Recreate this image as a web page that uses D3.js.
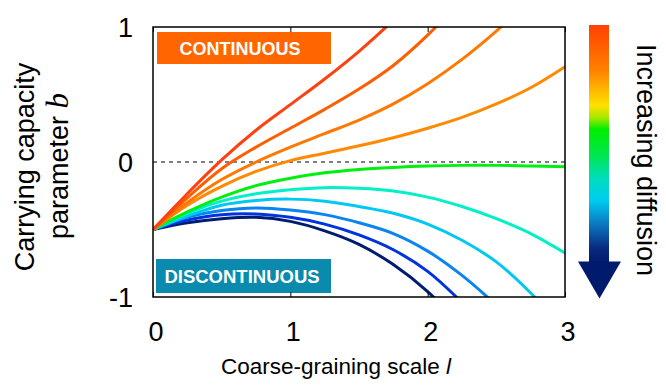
<!DOCTYPE html>
<html>
<head>
<meta charset="utf-8">
<script src="https://cdn.jsdelivr.net/npm/d3@7"></script>
<style>
  body { margin: 0; background: #fff; }
  svg { display: block; font-family: Helvetica, Arial, "Liberation Sans", sans-serif; }
</style>
</head>
<body>
<div id="chart"></div>
<script>
// coarse-graining scale grid (x values shared by every curve)
var lValues = [0, 0.25, 0.5, 0.75, 1, 1.25, 1.5, 1.75, 2, 2.25, 2.5, 2.75, 3];

// b(l) for each diffusion level, low diffusion first (values past the frame get clipped)
var bRed    = [-0.5, -0.235, 0.015, 0.235, 0.425, 0.615, 0.82, 1.05, 1.3, 1.57, 1.85, 2.15, 2.45];
var bOrange1 = [-0.5, -0.265, -0.05, 0.11, 0.25, 0.39, 0.54, 0.715, 0.94, 1.2, 1.45, 1.7, 1.95];
var bOrange2 = [-0.5, -0.30, -0.13, 0.0, 0.11, 0.21, 0.31, 0.43, 0.58, 0.76, 0.97, 1.2, 1.45];
var bOrange3 = [-0.5, -0.32, -0.18, -0.07, 0.01, 0.065, 0.12, 0.18, 0.25, 0.33, 0.43, 0.55, 0.706];
var bGreen  = [-0.5, -0.37, -0.26, -0.175, -0.12, -0.08, -0.055, -0.04, -0.03, -0.025, -0.025, -0.03, -0.035];
var bAqua   = [-0.5, -0.38, -0.29, -0.235, -0.205, -0.19, -0.195, -0.215, -0.26, -0.33, -0.42, -0.53, -0.674];
var bCyan   = [-0.5, -0.40, -0.32, -0.285, -0.275, -0.29, -0.33, -0.38, -0.46, -0.58, -0.74, -0.97, -1.25];
var bAzure  = [-0.5, -0.41, -0.36, -0.34, -0.355, -0.39, -0.45, -0.53, -0.66, -0.84, -1.06, -1.3, -1.55];
var bBlue   = [-0.5, -0.43, -0.39, -0.385, -0.41, -0.46, -0.54, -0.65, -0.81, -1.04, -1.3, -1.55, -1.8];
var bNavy   = [-0.5, -0.45, -0.42, -0.41, -0.44, -0.51, -0.61, -0.76, -0.96, -1.22, -1.5, -1.8, -2.1];

var curveColours = ["#ff4010", "#ff5e00", "#ff7800", "#ff8a00", "#00ee10",
                    "#00f0c8", "#00c8f0", "#0a84f0", "#0033dd", "#001c70"];

var xTicks = [0, 1, 2, 3];
var yTicks = [-1, 0, 1];

var series = [bRed, bOrange1, bOrange2, bOrange3, bGreen, bAqua, bCyan, bAzure, bBlue, bNavy];

// set the dimensions of the plot frame
var width = 666, height = 392;
var plot = {left: 153, right: 565, top: 27, bottom: 297};

var x = d3.scaleLinear().domain([0, 3]).range([plot.left, plot.right]);
var y = d3.scaleLinear().domain([-1, 1]).range([plot.bottom, plot.top]);

var svg = d3.select("#chart").append("svg")
    .attr("width", width)
    .attr("height", height);

var defs = svg.append("defs");

defs.append("clipPath")
    .attr("id", "plotclip")
  .append("rect")
    .attr("x", plot.left)
    .attr("y", plot.top)
    .attr("width", plot.right - plot.left)
    .attr("height", plot.bottom - plot.top);

// colour bar gradient, top to bottom
var grad = defs.append("linearGradient")
    .attr("id", "diffgrad")
    .attr("x1", 0).attr("y1", 0)
    .attr("x2", 0).attr("y2", 1);

var gradStops = [
  [0, "#ff4000"], [0.19, "#ff8000"], [0.3, "#ffc800"], [0.34, "#ffe000"],
  [0.39, "#a8e800"], [0.44, "#00ee00"], [0.55, "#00e650"], [0.65, "#00dcc0"],
  [0.74, "#00ccf0"], [0.84, "#0a78c0"], [0.94, "#0a2a80"], [1, "#001a6e"]
];
grad.selectAll("stop")
    .data(gradStops)
  .enter().append("stop")
    .attr("offset", function(d) { return d[0]; })
    .attr("stop-color", function(d) { return d[1]; });

// labelled regions
svg.append("rect")
    .attr("x", 157).attr("y", 32)
    .attr("width", 174).attr("height", 32)
    .attr("fill", "#ff6600");
svg.append("text")
    .attr("x", 240).attr("y", 55)
    .attr("text-anchor", "middle")
    .attr("fill", "#fff")
    .style("font-size", "18px")
    .style("font-weight", "bold")
    .text("CONTINUOUS");

svg.append("rect")
    .attr("x", 156).attr("y", 259)
    .attr("width", 175).attr("height", 34)
    .attr("fill", "#0a8aac");
svg.append("text")
    .attr("x", 242).attr("y", 283)
    .attr("text-anchor", "middle")
    .attr("fill", "#fff")
    .style("font-size", "18.5px")
    .style("font-weight", "bold")
    .text("DISCONTINUOUS");

// dashed zero line
svg.append("line")
    .attr("x1", plot.left).attr("x2", plot.right)
    .attr("y1", y(0)).attr("y2", y(0))
    .attr("stroke", "#000")
    .attr("stroke-width", 1)
    .attr("stroke-dasharray", "4,4");

// the curves
var line = d3.line()
    .curve(d3.curveCatmullRom.alpha(0.5))
    .x(function(d, i) { return x(lValues[i]); })
    .y(function(d) { return y(d); });

svg.append("g")
    .attr("clip-path", "url(#plotclip)")
  .selectAll("path")
    .data(series.slice().reverse())
  .enter().append("path")
    .attr("fill", "none")
    .attr("stroke", function(d, i) { return curveColours[series.length - 1 - i]; })
    .attr("stroke-width", 3)
    .attr("d", line);

// frame and inward ticks
svg.append("rect")
    .attr("x", plot.left).attr("y", plot.top)
    .attr("width", plot.right - plot.left)
    .attr("height", plot.bottom - plot.top)
    .attr("fill", "none")
    .attr("stroke", "#000")
    .attr("stroke-width", 1.5);

svg.append("g")
    .attr("transform", "translate(0," + plot.bottom + ")")
    .call(d3.axisTop(x).tickValues(xTicks).tickSize(5).tickFormat(""))
    .call(function(g) { g.select(".domain").remove(); });
svg.append("g")
    .attr("transform", "translate(0," + plot.top + ")")
    .call(d3.axisBottom(x).tickValues(xTicks).tickSize(5).tickFormat(""))
    .call(function(g) { g.select(".domain").remove(); });

// tick labels
svg.selectAll(".xlab")
    .data(xTicks)
  .enter().append("text")
    .attr("class", "xlab")
    .attr("x", function(d) { return x(d) + 3; })
    .attr("y", 341)
    .attr("text-anchor", "middle")
    .style("font-size", "27px")
    .text(function(d) { return d; });

svg.selectAll(".ylab")
    .data(yTicks)
  .enter().append("text")
    .attr("class", "ylab")
    .attr("x", 133)
    .attr("y", function(d) { return y(d) + 10; })
    .attr("text-anchor", "end")
    .style("font-size", "27px")
    .text(function(d) { return d; });

// axis titles
var xt = svg.append("text")
    .attr("x", 336).attr("y", 374)
    .attr("text-anchor", "middle")
    .style("font-size", "22.5px");
xt.append("tspan").text("Coarse-graining scale ");
xt.append("tspan").style("font-style", "italic").text("l");

svg.append("text")
    .attr("transform", "translate(34,167)rotate(-90)")
    .attr("text-anchor", "middle")
    .style("font-size", "27px")
    .text("Carrying capacity");

var yt = svg.append("text")
    .attr("transform", "translate(68,166)rotate(-90)")
    .attr("text-anchor", "middle")
    .style("font-size", "27px");
yt.append("tspan").text("parameter ");
yt.append("tspan")
    .style("font-family", "'Liberation Serif', 'Times New Roman', serif")
    .style("font-style", "italic")
    .style("font-size", "31px")
    .text("b");

// diffusion colour bar with arrow head
svg.append("rect")
    .attr("x", 589).attr("y", 25)
    .attr("width", 20).attr("height", 237)
    .attr("fill", "url(#diffgrad)");
svg.append("path")
    .attr("d", "M578,261.5 L621,261.5 L599.5,298.5 Z")
    .attr("fill", "#001a6e");

svg.append("text")
    .attr("transform", "translate(637,160)rotate(90)")
    .attr("text-anchor", "middle")
    .style("font-size", "27px")
    .text("Increasing diffusion");
</script>
</body>
</html>
